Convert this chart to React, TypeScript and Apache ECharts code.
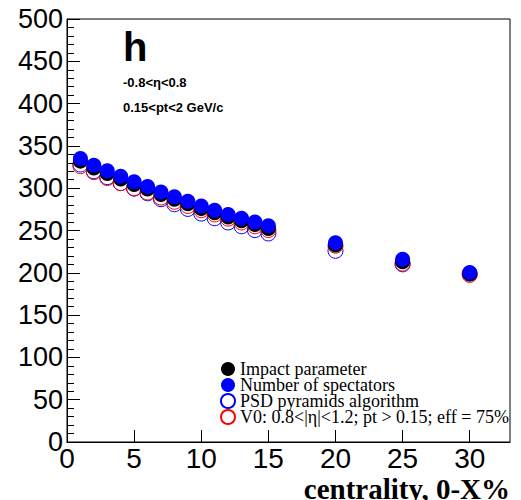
import React, { useEffect, useRef } from "react";
import * as echarts from "echarts";

const centrality = [1, 2, 3, 4, 5, 6, 7, 8, 9, 10, 11, 12, 13, 14, 15, 20, 25, 30];
const impactParameter = [332, 324, 317.5, 311, 304.5, 299, 292.5, 287, 281.5, 276, 271, 266, 261.5, 257, 252.5, 233, 213, 199];
const numSpectators = [335, 327, 320.5, 314, 307.5, 302, 295.5, 290, 284.5, 279, 274, 269, 264.5, 260, 255.5, 235.5, 216, 200.5];
const psdPyramids = [328, 320, 313, 306, 299.5, 294, 287, 281, 275.5, 270, 264.5, 259.5, 255, 250.5, 246.5, 226, 210, 199];
const v0 = [326, 319, 312, 306, 300, 295, 289, 284, 279, 274, 269, 264, 259.5, 255, 250.5, 232, 211, 197.5];
const xTicks = [0, 5, 10, 15, 20, 25, 30];
const seriesNames = [
  "Impact parameter",
  "Number of spectators",
  "PSD pyramids algorithm",
  "V0: 0.8<|η|<1.2; pt > 0.15; eff = 75%",
];

const pairs = (ys: number[]) => centrality.map((x, i) => [x, ys[i]]);

export default function App() {
  const ref = useRef<HTMLDivElement>(null);
  useEffect(() => {
    if (!ref.current) return;
    const chart = echarts.init(ref.current, null, { renderer: "svg" });
    const sans = "'Liberation Sans', Arial, sans-serif";
    const serif = "'Liberation Serif', 'Times New Roman', serif";
    chart.setOption({
      animation: false,
      backgroundColor: "#fff",
      grid: {
        left: 67,
        right: 11,
        top: 19,
        bottom: 58,
        show: true,
        borderColor: "#000",
        borderWidth: 1,
        backgroundColor: "transparent",
      },
      xAxis: {
        type: "value",
        min: 0,
        max: 33,
        interval: 5,
        axisLine: { onZero: false, lineStyle: { color: "#000", width: 1 } },
        axisTick: { inside: true, length: 12, lineStyle: { color: "#000" }, customValues: xTicks },
        axisLabel: {
          customValues: xTicks,
          color: "#000",
          fontFamily: sans,
          fontSize: 28,
          margin: 2,
        },
        splitLine: { show: false },
      },
      yAxis: {
        type: "value",
        min: 0,
        max: 500,
        interval: 50,
        axisLine: { show: true, onZero: false, lineStyle: { color: "#000", width: 1 } },
        axisTick: { show: true, inside: true, length: 13, lineStyle: { color: "#000" } },
        minorTick: { show: true, splitNumber: 5, length: 7, lineStyle: { color: "#000" } },
        axisLabel: {
          color: "#000",
          fontFamily: sans,
          fontSize: 27,
          margin: 4,
        },
        splitLine: { show: false },
      },
      legend: {
        orient: "vertical",
        left: 220,
        top: 360,
        itemWidth: 14,
        itemHeight: 14,
        itemGap: -2,
        padding: 0,
        data: seriesNames.map((n) => ({ name: n, icon: "circle" })),
        textStyle: { fontFamily: serif, fontSize: 18, color: "#000" },
        selectedMode: false,
      },
      series: [
        {
          name: seriesNames[2],
          type: "scatter",
          symbol: "circle",
          symbolSize: 15,
          data: pairs(psdPyramids),
          itemStyle: { color: "rgba(0,0,0,0)", borderColor: "#0000ff", borderWidth: 1, opacity: 1 },
          z: 2,
        },
        {
          name: seriesNames[3],
          type: "scatter",
          symbol: "circle",
          symbolSize: 15,
          data: pairs(v0),
          itemStyle: { color: "rgba(0,0,0,0)", borderColor: "#ff0000", borderWidth: 1, opacity: 1 },
          z: 3,
        },
        {
          name: seriesNames[0],
          type: "scatter",
          symbol: "circle",
          symbolSize: 15,
          data: pairs(impactParameter),
          itemStyle: { color: "#000000", opacity: 1 },
          z: 4,
        },
        {
          name: seriesNames[1],
          type: "scatter",
          symbol: "circle",
          symbolSize: 15,
          data: pairs(numSpectators),
          itemStyle: { color: "#0000ff", opacity: 1 },
          z: 5,
        },
      ],
      graphic: [
        {
          type: "text",
          x: 123,
          y: 47,
          style: { text: "h", font: `bold 40px ${sans}`, fill: "#000", verticalAlign: "middle" },
        },
        {
          type: "text",
          x: 123,
          y: 82.5,
          style: { text: "-0.8<η<0.8", font: `bold 13px ${sans}`, fill: "#000", verticalAlign: "middle" },
        },
        {
          type: "text",
          x: 123,
          y: 107.5,
          style: { text: "0.15<pt<2 GeV/c", font: `bold 13px ${sans}`, fill: "#000", verticalAlign: "middle" },
        },
        {
          type: "text",
          x: 510,
          y: 489,
          style: {
            text: "centrality, 0-X%",
            font: `bold 29px ${serif}`,
            fill: "#000",
            align: "right",
            verticalAlign: "middle",
          },
        },
      ],
    });
    return () => chart.dispose();
  }, []);
  return <div ref={ref} style={{ width: 521, height: 500, position: "absolute", left: 0, top: 0 }} />;
}
